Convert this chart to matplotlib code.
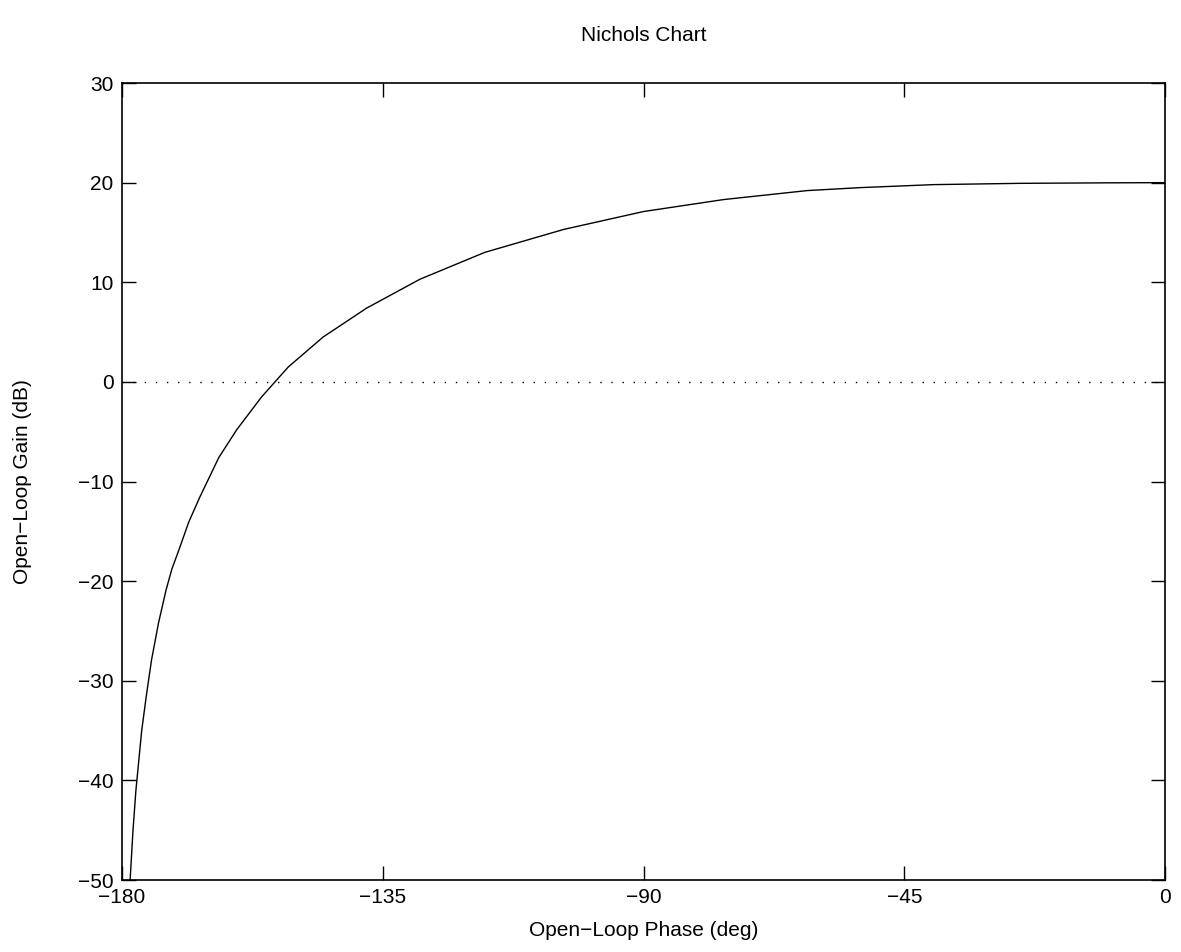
import matplotlib
matplotlib.use("Agg")
import matplotlib.pyplot as plt

# open-loop response (phase in deg, gain in dB)
phase = [-178.6, -178.1, -177.6, -177.1, -176.6, -175.8, -174.9, -173.7,
         -172.4, -171.4, -170.2, -168.5, -166.6, -163.3, -160.2, -155.9,
         -151.3, -145.3, -137.8, -128.6, -117.4, -103.8, -90.0, -76.2,
         -61.8, -52.6, -40.0, -25.0, -10.0, 0.0]
gain = [-50.0, -45.0, -41.0, -38.0, -35.0, -31.5, -27.9, -24.2,
        -20.9, -18.8, -16.9, -14.1, -11.6, -7.6, -4.8, -1.5,
        1.5, 4.5, 7.4, 10.3, 13.0, 15.3, 17.1, 18.3,
        19.2, 19.5, 19.8, 19.93, 19.98, 20.0]

xticks = [-180, -135, -90, -45, 0]
yticks = [-50, -40, -30, -20, -10, 0, 10, 20, 30]

plt.rcParams['font.family'] = ['Liberation Sans', 'DejaVu Sans']
plt.rcParams['axes.unicode_minus'] = True

fig = plt.figure(figsize=(11.81, 9.52), dpi=100)
ax = fig.add_axes([0.1033, 0.0756, 0.8832, 0.8372])

ax.plot(phase, gain, color='black', lw=1.0)
ax.axhline(0, color='black', lw=1.0, ls=(0, (1, 7)))

ax.set_xlim(-180, 0)
ax.set_ylim(-50, 30)
ax.set_xticks(xticks)
ax.set_yticks(yticks)
ax.tick_params(direction='in', length=10, width=1, top=True, right=True,
               labelsize=15, pad=6)
for s in ax.spines.values():
    s.set_linewidth(1.2)

ax.set_xlabel('Open\u2212Loop Phase (deg)', fontsize=15, labelpad=10)
ax.set_ylabel('Open\u2212Loop Gain (dB)', fontsize=15, labelpad=33)
ax.set_title('Nichols Chart', fontsize=15, pad=30)

fig.savefig('out.png', dpi=100)
